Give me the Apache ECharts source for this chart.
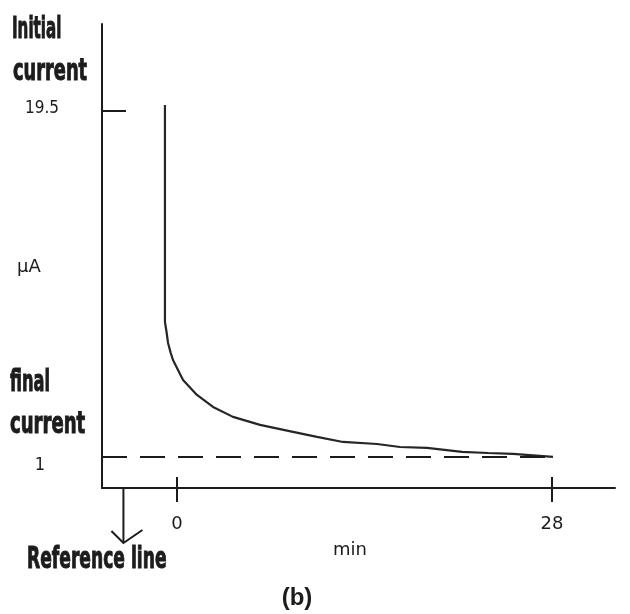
<!DOCTYPE html>
<html>
<head>
<meta charset="utf-8">
<title>Current decay (b)</title>
<script src="https://cdn.jsdelivr.net/npm/echarts@6/dist/echarts.min.js"></script>
<style>
html,body{margin:0;padding:0;background:#fff;}
#chart{width:630px;height:614px;}
</style>
</head>
<body>
<div id="chart"></div>
<script>
// data (time in min, current in uA)
var timeMin   = [-0.9, -0.9, -0.77, -0.67, -0.47, -0.3, 0.45, 1.49, 2.69, 4.18, 6.2, 8.66, 10.45, 12.39, 14.93, 16.65, 18.67, 21.28, 23.22, 25.09, 28.07];
var currentUa = [19.8, 8.21, 7.62, 7.09, 6.56, 6.18, 5.11, 4.31, 3.67, 3.14, 2.71, 2.34, 2.07, 1.8, 1.69, 1.53, 1.48, 1.27, 1.21, 1.16, 1.0];
var finalCurrent = 1;
var finalEnd = 28.07;
var xTickValues = [0, 28];
var yLabelValues = [1, 19.5];
var yTickValues = [19.5];
var refLineX = -4.0; // where the reference arrow points down

var xMin = -5.6, xMax = 32.7;
var yMin = -0.66, yMax = 24.13;

var ink = '#1c1c1c';
var boldFont = '"Liberation Sans Narrow", "DejaVu Sans Condensed", "Liberation Sans", sans-serif';

var curve = [];
for (var i = 0; i < timeMin.length; i++) {
	curve.push([timeMin[i], currentUa[i]]);
}

var mychart = echarts.init(document.getElementById('chart'), null, {renderer: 'canvas'});

var option = {
	backgroundColor: '#ffffff',
	animation: false,
	grid: {left: 102, right: 15, top: 24, bottom: 126, containLabel: false},
	xAxis: [
		{
			type: 'value', min: xMin, max: xMax,
			axisLine: {show: true, onZero: false, lineStyle: {color: ink, width: 2}},
			axisTick: {show: true, customValues: xTickValues, length: 14, lineStyle: {color: ink, width: 2}},
			axisLabel: {show: true, customValues: xTickValues, margin: 27, color: ink, fontFamily: '"DejaVu Sans", sans-serif', fontSize: 18},
			splitLine: {show: false}
		},
		{//second axis only for the inside half of the ticks
			type: 'value', position: 'bottom', min: xMin, max: xMax,
			axisLine: {show: false, onZero: false},
			axisTick: {show: true, inside: true, customValues: xTickValues, length: 11, lineStyle: {color: ink, width: 2}},
			axisLabel: {show: false},
			splitLine: {show: false}
		}
	],
	yAxis: {
		type: 'value', min: yMin, max: yMax,
		axisLine: {show: true, onZero: false, lineStyle: {color: ink, width: 2}},
		axisTick: {show: true, inside: true, customValues: yTickValues, length: 24, lineStyle: {color: ink, width: 2}},
		axisLabel: {
			show: true, customValues: yLabelValues, margin: 43, color: ink,
			fontFamily: boldFont, fontSize: 17,
			formatter: function (v) {
				if (v == finalCurrent) return '{one|1}';
				return '{top|' + v + '}';
			},
			rich: {
				one: {fontFamily: boldFont, fontSize: 18, color: ink, padding: [16, 14, 0, 0]},
				top: {fontFamily: boldFont, fontSize: 17, color: ink, padding: [0, 0, 4, 0]}
			}
		},
		splitLine: {show: false}
	},
	series: [
		{
			name: 'current',
			type: 'line',
			data: curve,
			showSymbol: false,
			smooth: false,
			lineStyle: {color: '#262626', width: 2.2}
		},
		{
			name: 'final current',
			type: 'line',
			data: [[xMin, finalCurrent], [finalEnd, finalCurrent]],
			showSymbol: false,
			lineStyle: {color: ink, width: 2, type: [25, 13]}
		}
	]
};
mychart.setOption(option);

function bigLabel(txt, x, y, sx) {//heavy condensed captions, stroke makes them look blacker
	return {
		type: 'text', x: x, y: y, scaleX: sx, scaleY: 1,
		style: {text: txt, fill: ink, stroke: ink, lineWidth: 1, font: 'bold 30px ' + boldFont, verticalAlign: 'middle', align: 'left'}
	};
}

var ax = mychart.convertToPixel({xAxisIndex: 0}, refLineX);
var ay = mychart.convertToPixel({yAxisIndex: 0}, yMin);
var tipY = ay + 55;

mychart.setOption({
	graphic: [
		bigLabel('Initial', 12, 30, 0.56),
		bigLabel('current', 13, 72, 0.66),
		bigLabel('final', 10, 383, 0.6),
		bigLabel('current', 10, 425, 0.67),
		bigLabel('Reference line', 27, 560, 0.635),
		{
			type: 'text', x: 17, y: 267,
			style: {text: 'μA', fill: ink, font: '18px "DejaVu Sans", sans-serif', verticalAlign: 'middle'}
		},
		{
			type: 'text', x: 333, y: 550,
			style: {text: 'min', fill: ink, font: '18px "DejaVu Sans", sans-serif', verticalAlign: 'middle'}
		},
		{
			type: 'text', x: 297, y: 598,
			style: {text: '(b)', fill: ink, font: 'bold 24px "Liberation Sans", Arial, sans-serif', align: 'center', verticalAlign: 'middle'}
		},
		{// reference arrow
			type: 'line',
			shape: {x1: ax, y1: ay, x2: ax, y2: tipY},
			style: {stroke: ink, lineWidth: 2}
		},
		{
			type: 'polyline',
			shape: {points: [[ax - 12, tipY - 12], [ax, tipY], [ax + 19, tipY - 13]]},
			style: {stroke: ink, lineWidth: 2, fill: null}
		}
	]
});
</script>
</body>
</html>
